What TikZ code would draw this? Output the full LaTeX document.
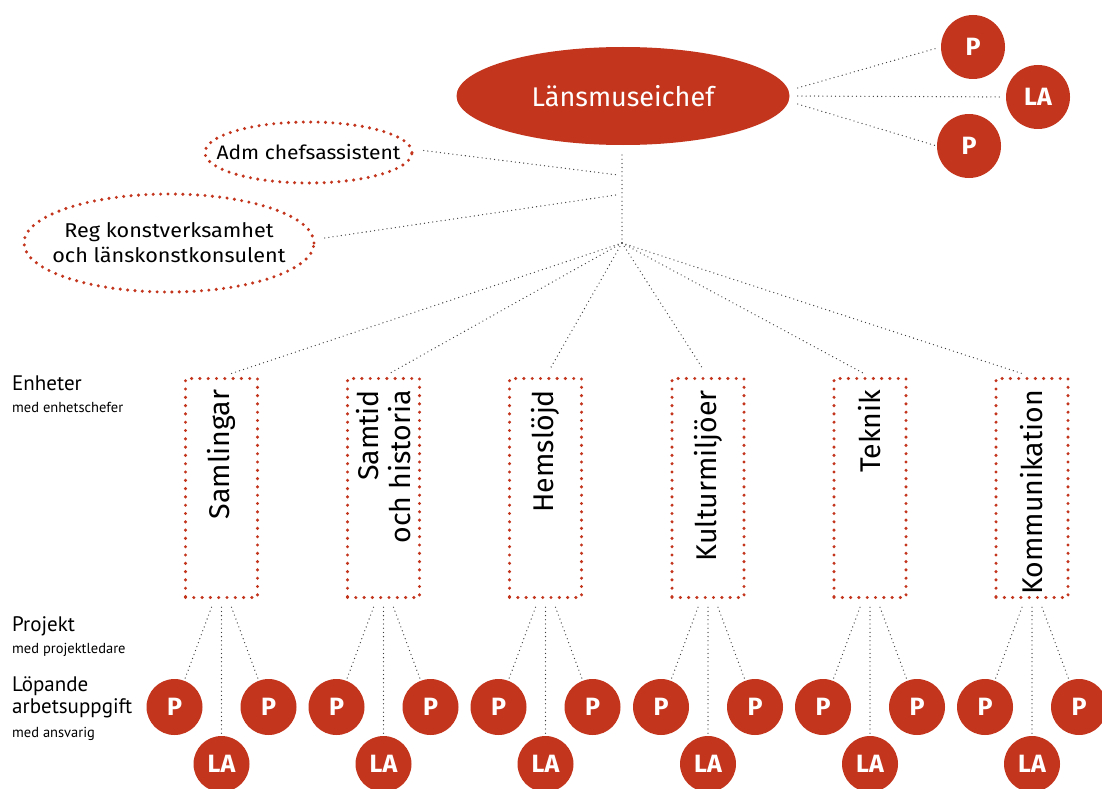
\documentclass[tikz,border=0pt]{standalone}
\usepackage{fontspec}
\setmainfont{Fira Sans}
\newfontfamily\lblfont{PT Sans}
\newfontfamily\wfont[FakeStretch=1.08]{Fira Sans}
\usetikzlibrary{calc,shapes.geometric}
\definecolor{musred}{RGB}{196,53,30}
\definecolor{lngray}{RGB}{60,60,60}
\begin{document}
\begin{tikzpicture}[x=1pt,y=-1pt,
  conn/.style={draw=lngray, line width=1.3pt, line cap=round, dash pattern=on 0pt off 4.2pt},
  reddots/.style={draw=musred, line width=3.4pt, line cap=round, dash pattern=on 0pt off 8.3pt},
  chefnode/.style={ellipse, fill=musred, text=white, minimum width=333pt, minimum height=98pt, inner sep=0pt, font=\fontsize{27}{32}\selectfont},
  staffshape/.style={ellipse, reddots, dash pattern=on 0pt off 7.4pt, inner sep=0pt},
  stafftext/.style={align=center, inner sep=0pt, font=\wfont\fontsize{20}{25}\selectfont},
  unitbox/.style={rectangle, reddots, minimum width=72pt, minimum height=219pt, inner sep=0pt},
  unittext/.style={rotate=90, anchor=east, align=right, inner sep=0pt, font=\fontsize{28.5}{32}\selectfont},
  pcirc/.style={circle, fill=musred, text=white, minimum size=56pt, inner sep=0pt, font=\bfseries\fontsize{25}{25}\selectfont},
  bigcirc/.style={pcirc, minimum size=64pt},
  sidehead/.style={anchor=base west, inner sep=0pt, font=\lblfont\fontsize{21}{21}\selectfont},
  sidesub/.style={anchor=base west, inner sep=0pt, font=\lblfont\fontsize{14.5}{14.5}\selectfont}
]
\fill[white] (0,0) rectangle (1102,789);
\useasboundingbox (0,0) rectangle (1102,789);

% top
\node[chefnode] (chef) at (623,96) {Länsmuseichef};
\node[bigcirc] (ptop) at (973,47) {P};
\node[bigcirc] (latop) at (1038,97) {LA};
\node[bigcirc] (pbot) at (969,146) {P};
\draw[conn, shorten >=3pt] ($(chef.east)+(8,-8)$) -- (ptop.west);
\draw[conn, shorten >=6pt] ($(chef.east)+(8,0)$) -- (latop.west);
\draw[conn] ($(chef.east)+(8,8)$) -- (pbot.west);

% staff
\node[staffshape, minimum width=207pt, minimum height=61pt] (adm) at (308.5,152.5) {};
\node[stafftext, font=\wfont\fontsize{19.5}{25}\selectfont] (admt) at (adm.center) {Adm chefsassistent};
\node[staffshape, minimum width=290pt, minimum height=98pt] (reg) at (169,243) {};
\node[stafftext] (regt) at (reg.center) {Reg konstverksamhet\\och länskonstkonsulent};

\coordinate (vtop) at (622,155);
\coordinate (ja) at (622,175);
\coordinate (jr) at (622,195);
\coordinate (hub) at (622,243);
\draw[conn] (vtop) -- (hub);
\draw[conn] ($(adm.east)+(10,-2)$) -- ($(ja)+(-4,0)$);
\draw[conn] ($(reg.east)+(9,-5)$) -- ($(jr)+(-6,0)$);

% units
\foreach \i/\x/\t in {1/221.5/Samlingar, 2/383.5/{Samtid\\och historia}, 3/545.5/Hemslöjd, 4/708/Kulturmiljöer, 5/870/Teknik, 6/1032/Kommunikation}{
  \node[unitbox] (box\i) at (\x,488) {};
  \node[unittext] (txt\i) at ($(box\i.north)+(0,13)$) {\t};
  \draw[conn, shorten >=8pt] (hub) -- (box\i.north);
  \node[pcirc] (pl\i) at ({\x-47},707) {P};
  \node[pcirc] (pr\i) at ({\x+47},707) {P};
  \node[pcirc] (la\i) at (\x,764) {LA};
  \draw[conn] ($(box\i.south)+(-10,8)$) -- (pl\i);
  \draw[conn] ($(box\i.south)+(0,8)$) -- (la\i);
  \draw[conn] ($(box\i.south)+(10,8)$) -- (pr\i);
}

% side labels
\node[sidehead] (lenh) at (12,390) {Enheter};
\node[sidesub] (lenhs) at (12,412) {med enhetschefer};
\node[sidehead] (lproj) at (12,631) {Projekt};
\node[sidesub] (lprojs) at (12,653) {med projektledare};
\node[sidehead] (llop) at (12,691) {Löpande};
\node[sidehead] (larb) at (12,713) {arbetsuppgift};
\node[sidesub] (lans) at (12,737) {med ansvarig};
\end{tikzpicture}
\end{document}
